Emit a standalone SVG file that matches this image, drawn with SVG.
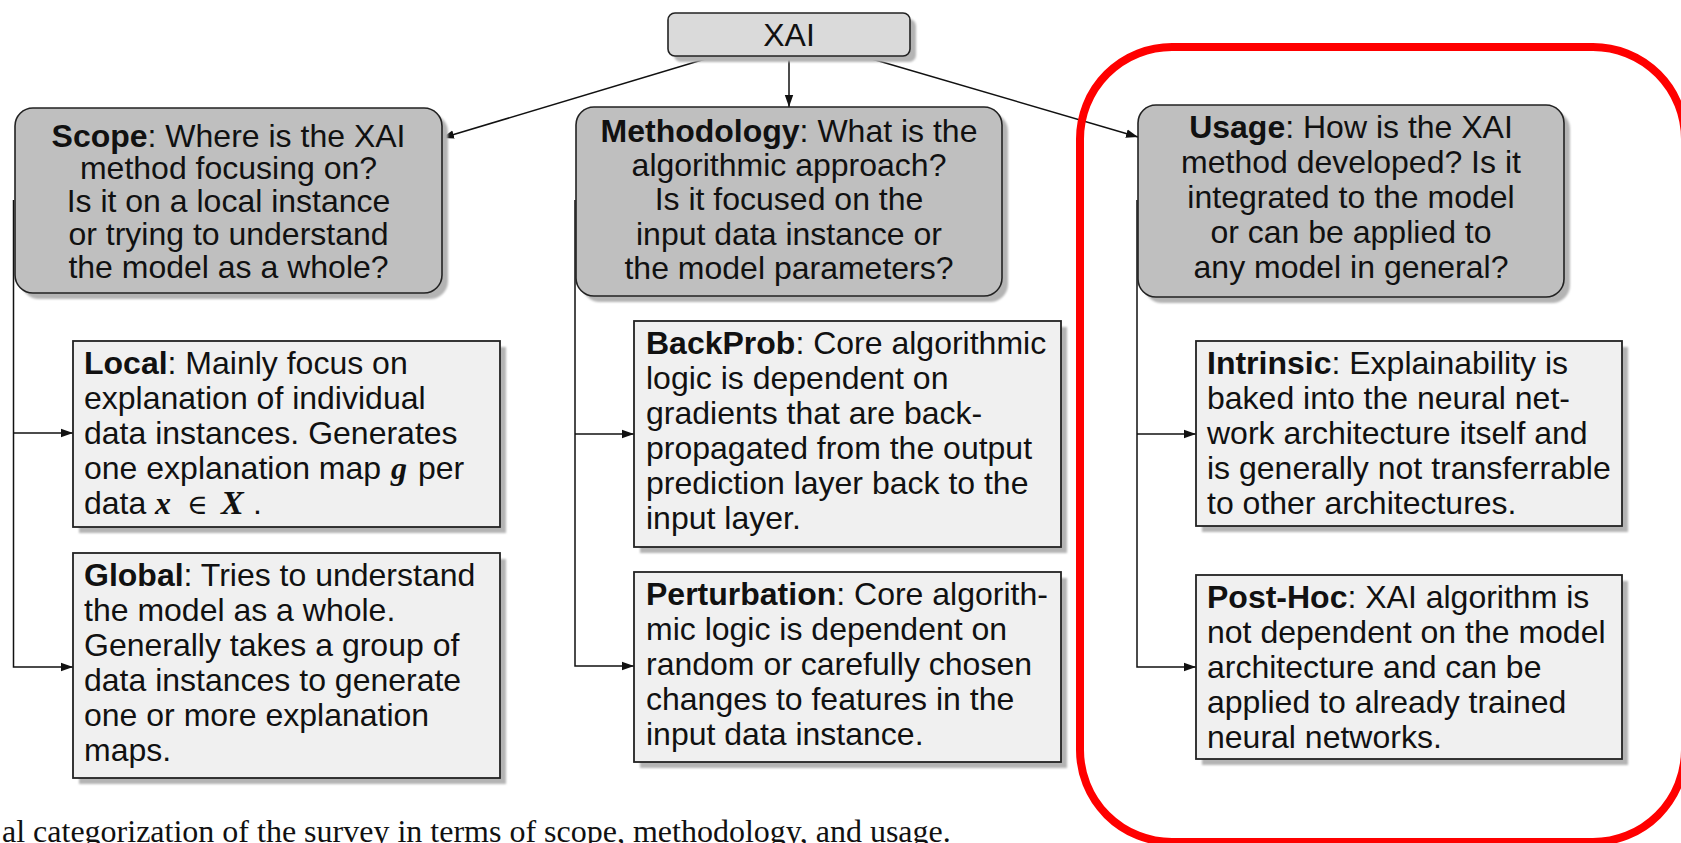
<svg xmlns="http://www.w3.org/2000/svg" width="1681" height="843" viewBox="0 0 1681 843">
  <defs>
    <filter id="soft" x="-5%" y="-5%" width="110%" height="110%">
      <feGaussianBlur stdDeviation="1.2"/>
    </filter>
    <marker id="arrow" viewBox="0 0 12 10" refX="12" refY="5" markerWidth="12" markerHeight="10" markerUnits="userSpaceOnUse" orient="auto">
      <path d="M0,0.8 L12,5 L0,9.2 Z" fill="#111"/>
    </marker>
    <style>
      text { font-family: "Liberation Sans", Arial, sans-serif; font-size: 32px; fill: #111; }
      .head text { text-anchor: middle; }
      .shadow { fill: #b4b4b4; filter: url(#soft); }
      .root { fill: #dadada; stroke: #222; stroke-width: 1.6; }
      .head-box { fill: #bfbfbf; stroke: #222; stroke-width: 1.6; }
      .leaf-box { fill: #f0f0f0; stroke: #222; stroke-width: 1.8; }
      .b { font-weight: bold; }
      .m { font-family: "Liberation Serif", "DejaVu Serif", serif; font-style: italic; font-weight: bold; }
      .link { fill: none; stroke: #111; stroke-width: 1.5; }
      .caption { font-family: "Liberation Serif", "Times New Roman", serif; font-size: 32px; }
    </style>
  </defs>

  <rect width="1681" height="843" fill="#fff"/>

  <!-- connectors -->
  <g id="connectors">
    <line class="link" x1="712" y1="57" x2="442" y2="138" marker-end="url(#arrow)"/>
    <line class="link" x1="789" y1="57" x2="789" y2="107" marker-end="url(#arrow)"/>
    <line class="link" x1="865" y1="57" x2="1138" y2="137" marker-end="url(#arrow)"/>

    <polyline class="link" points="13.5,200 13.5,667 73,667" marker-end="url(#arrow)"/>
    <polyline class="link" points="13.5,433 73,433" marker-end="url(#arrow)"/>

    <polyline class="link" points="575,200 575,666 634,666" marker-end="url(#arrow)"/>
    <polyline class="link" points="575,434 634,434" marker-end="url(#arrow)"/>

    <polyline class="link" points="1137,200 1137,667 1196,667" marker-end="url(#arrow)"/>
    <polyline class="link" points="1137,434 1196,434" marker-end="url(#arrow)"/>
  </g>

  <!-- root -->
  <g id="xai">
    <rect class="shadow" x="674" y="19" width="242" height="43" rx="7"/>
    <rect class="root" x="668" y="13" width="242" height="43" rx="7"/>
    <text x="789" y="46" text-anchor="middle">XAI</text>
  </g>

  <!-- category nodes -->
  <g id="scope" class="head">
    <rect class="shadow" x="21" y="114" width="427" height="185" rx="18"/>
    <rect class="head-box" x="15" y="108" width="427" height="185" rx="18"/>
    <text x="228.5" y="147"><tspan class="b">Scope</tspan>: Where is the XAI</text>
    <text x="228.5" y="179">method focusing on?</text>
    <text x="228.5" y="212">Is it on a local instance</text>
    <text x="228.5" y="245">or trying to understand</text>
    <text x="228.5" y="278">the model as a whole?</text>
  </g>

  <g id="methodology" class="head">
    <rect class="shadow" x="582" y="113" width="426" height="189" rx="18"/>
    <rect class="head-box" x="576" y="107" width="426" height="189" rx="18"/>
    <text x="789" y="142"><tspan class="b">Methodology</tspan>: What is the</text>
    <text x="789" y="176">algorithmic approach?</text>
    <text x="789" y="210">Is it focused on the</text>
    <text x="789" y="244.5">input data instance or</text>
    <text x="789" y="279">the model parameters?</text>
  </g>

  <g id="usage" class="head">
    <rect class="shadow" x="1144" y="111" width="426" height="192" rx="18"/>
    <rect class="head-box" x="1138" y="105" width="426" height="192" rx="18"/>
    <text x="1351" y="138"><tspan class="b">Usage</tspan>: How is the XAI</text>
    <text x="1351" y="173">method developed? Is it</text>
    <text x="1351" y="208">integrated to the model</text>
    <text x="1351" y="243">or can be applied to</text>
    <text x="1351" y="278">any model in general?</text>
  </g>

  <!-- scope leaves -->
  <g id="local">
    <rect class="shadow" x="79" y="347" width="427" height="186"/>
    <rect class="leaf-box" x="73" y="341" width="427" height="186"/>
    <text x="84" y="374"><tspan class="b">Local</tspan>: Mainly focus on</text>
    <text x="84" y="409">explanation of individual</text>
    <text x="84" y="444">data instances. Generates</text>
    <text x="84" y="479">one explanation map <tspan class="m" x="391">g</tspan><tspan x="418">per</tspan></text>
    <text x="84" y="514">data <tspan class="m" x="155">x</tspan><tspan x="187" font-family="DejaVu Serif, serif" font-size="28">∈</tspan><tspan class="m" x="221" font-size="34">X</tspan><tspan x="253">.</tspan></text>
  </g>

  <g id="global">
    <rect class="shadow" x="79" y="559" width="427" height="225"/>
    <rect class="leaf-box" x="73" y="553" width="427" height="225"/>
    <text x="84" y="586"><tspan class="b">Global</tspan>: Tries to understand</text>
    <text x="84" y="621">the model as a whole.</text>
    <text x="84" y="656">Generally takes a group of</text>
    <text x="84" y="691">data instances to generate</text>
    <text x="84" y="726">one or more explanation</text>
    <text x="84" y="761">maps.</text>
  </g>

  <!-- methodology leaves -->
  <g id="backprob">
    <rect class="shadow" x="640" y="327" width="427" height="226"/>
    <rect class="leaf-box" x="634" y="321" width="427" height="226"/>
    <text x="646" y="354"><tspan class="b">BackProb</tspan>: Core algorithmic</text>
    <text x="646" y="389">logic is dependent on</text>
    <text x="646" y="424">gradients that are back-</text>
    <text x="646" y="459">propagated from the output</text>
    <text x="646" y="494">prediction layer back to the</text>
    <text x="646" y="529">input layer.</text>
  </g>

  <g id="perturbation">
    <rect class="shadow" x="640" y="578" width="427" height="190"/>
    <rect class="leaf-box" x="634" y="572" width="427" height="190"/>
    <text x="646" y="605"><tspan class="b">Perturbation</tspan>: Core algorith-</text>
    <text x="646" y="640">mic logic is dependent on</text>
    <text x="646" y="675">random or carefully chosen</text>
    <text x="646" y="710">changes to features in the</text>
    <text x="646" y="745">input data instance.</text>
  </g>

  <!-- usage leaves -->
  <g id="intrinsic">
    <rect class="shadow" x="1202" y="347" width="426" height="185"/>
    <rect class="leaf-box" x="1196" y="341" width="426" height="185"/>
    <text x="1207" y="374"><tspan class="b">Intrinsic</tspan>: Explainability is</text>
    <text x="1207" y="409">baked into the neural net-</text>
    <text x="1207" y="444">work architecture itself and</text>
    <text x="1207" y="479">is generally not transferrable</text>
    <text x="1207" y="514">to other architectures.</text>
  </g>

  <g id="posthoc">
    <rect class="shadow" x="1202" y="581" width="426" height="184"/>
    <rect class="leaf-box" x="1196" y="575" width="426" height="184"/>
    <text x="1207" y="608"><tspan class="b">Post-Hoc</tspan>: XAI algorithm is</text>
    <text x="1207" y="643">not dependent on the model</text>
    <text x="1207" y="678">architecture and can be</text>
    <text x="1207" y="713">applied to already trained</text>
    <text x="1207" y="748">neural networks.</text>
  </g>

  <!-- highlight around the usage branch -->
  <rect id="highlight" x="1080" y="47" width="605" height="795" rx="92" fill="none" stroke="#ff0000" stroke-width="8"/>

  <!-- caption fragment -->
  <text class="caption" x="2" y="842">al categorization of the survey in terms of scope, methodology, and usage.</text>
</svg>
